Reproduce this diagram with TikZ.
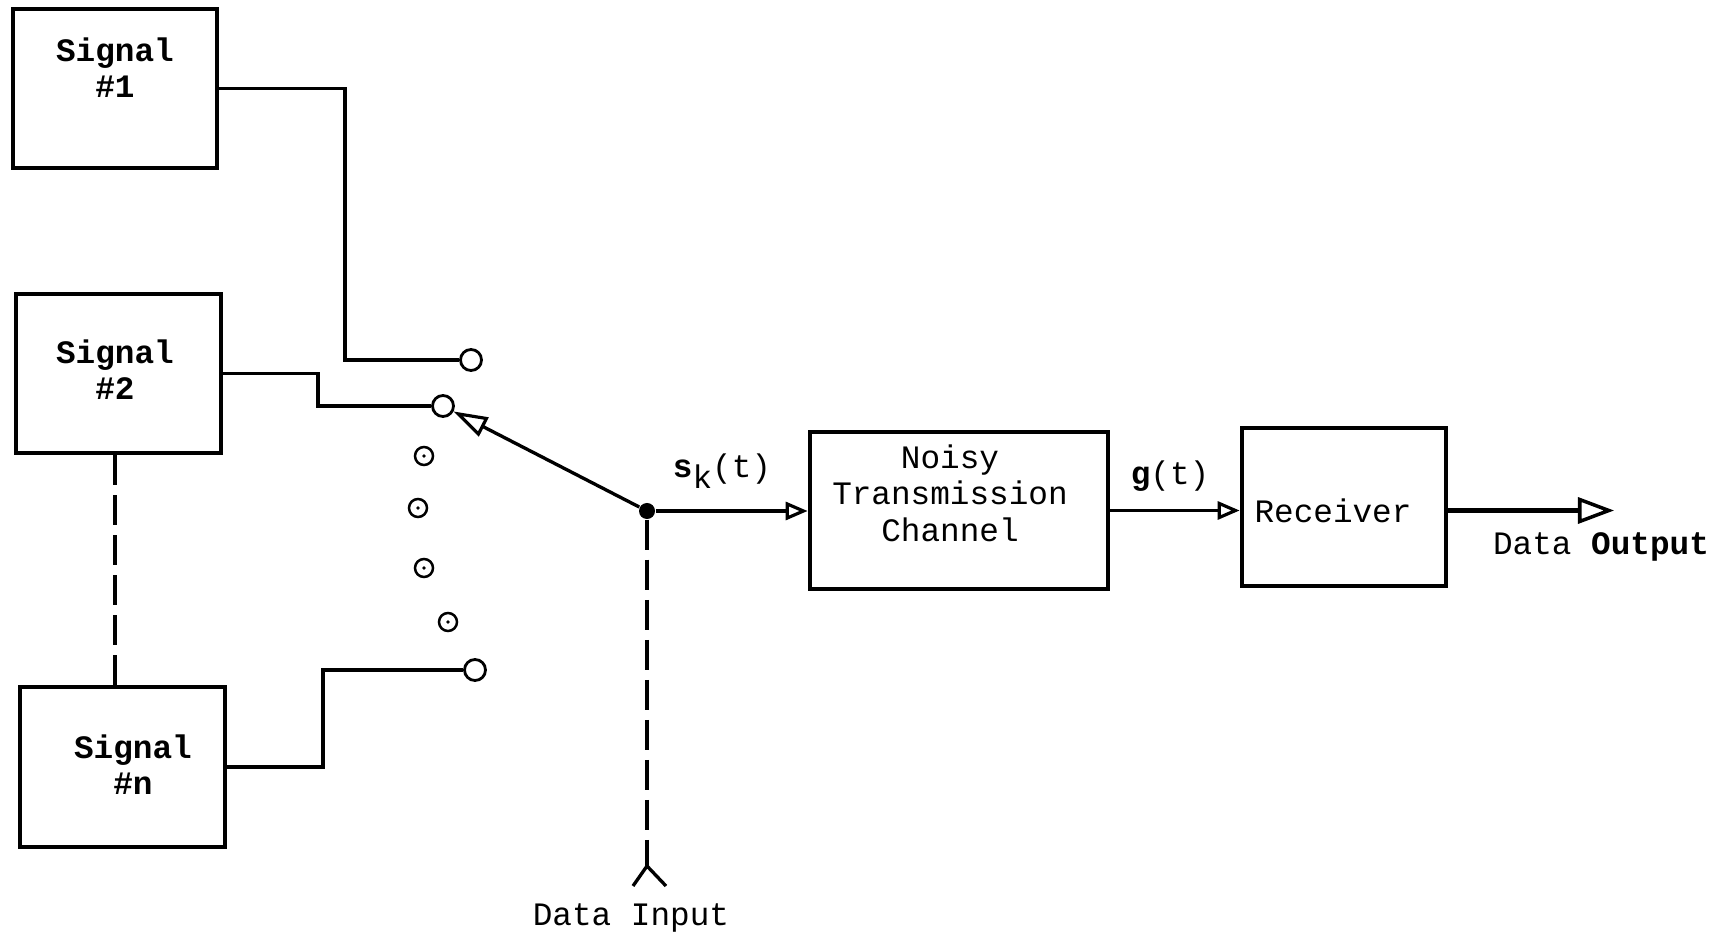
\documentclass[tikz,border=0pt]{standalone}
\usepackage{fontspec}
\setmonofont{Liberation Mono}
\usetikzlibrary{arrows.meta,calc}
\begin{document}
\begin{tikzpicture}[x=0.01cm,y=-0.01cm,
  blk/.style={draw, rectangle, line width=1.3pt, inner sep=0pt},
  sigtxt/.style={font=\fontsize{9.3}{10.2}\selectfont\ttfamily\bfseries, align=center, inner sep=0pt},
  txt/.style={font=\fontsize{9.3}{10.4}\selectfont\ttfamily, align=center, inner sep=0pt},
  wire/.style={line width=0.95pt},
  dashline/.style={line width=0.9pt, dash pattern=on 0.3cm off 0.1cm},
  term/.style={circle, draw, line width=0.8pt, inner sep=0pt, minimum size=0.21cm},
  dterm/.style={circle, draw, line width=0.7pt, inner sep=0pt, minimum size=0.18cm,
    path picture={\fill (path picture bounding box.center) circle (0.5pt);}},
  smalltip/.style={-{Triangle[open,length=0.22cm,width=0.18cm,line width=0.9pt]}},
  armtip/.style={-{Triangle[open,length=0.34cm,width=0.21cm,line width=0.9pt]}},
  bigtip/.style={-{Triangle[open,length=0.36cm,width=0.26cm,line width=1pt]}}]
\useasboundingbox[fill=white] (0,0) rectangle (1733,940);

% signal boxes
\node[blk, minimum width=2.04cm, minimum height=1.59cm] (s1) at (115,88.5) {};
\node[blk, minimum width=2.05cm, minimum height=1.59cm] (s2) at (118.5,373.5) {};
\node[blk, minimum width=2.05cm, minimum height=1.60cm] (sn) at (122.5,767) {};
\node[sigtxt] (s1t) at (115,68) {Signal\\\#1};
\node[sigtxt] (s2t) at (115,370) {Signal\\\#2};
\node[sigtxt] (snt) at (133,765) {Signal\\\#n};

% switch terminals
\node[term] (c1) at (471,360) {};
\node[term] (c2) at (443,406) {};
\node[term] (cn) at (475,670) {};
\node[dterm] (d1) at (424,456) {};
\node[dterm] (d2) at (418,508) {};
\node[dterm] (d3) at (424,568) {};
\node[dterm] (d4) at (448,622) {};

\coordinate (j1) at (345,0);
\coordinate (j2) at (318,0);
\coordinate (jn) at (323,0);
\draw[wire] (s1.east) -| (c1 -| j1) -- (c1);
\draw[wire] (s2.east) -| (c2 -| j2) -- (c2);
\draw[wire] (sn.east) -| (cn -| jn) -- (cn);
\draw[dashline] (s2.south -| s2t) -- (sn.north -| s2t);

% pivot and arm
\node[circle, fill, inner sep=0pt, minimum size=0.16cm] (p) at (647,511) {};
\draw[wire, armtip] (p) -- (c2);

% channel and receiver
\node[blk, minimum width=2.98cm, minimum height=1.57cm] (ch) at (959,510.5) {};
\node[txt] (cht) at (950,493) {Noisy\\Transmission\\Channel};
\node[blk, minimum width=2.04cm, minimum height=1.58cm] (rx) at (1344,507) {};
\node[txt] (rxt) at (1333,511) {Receiver};

\draw[wire, smalltip] (p) -- (p -| ch.west);
\draw[wire, smalltip] (ch.east) -- (ch.east -| rx.west);
\coordinate (out) at (1614,510.5);
\draw[line width=1.2pt, bigtip] (rx.east |- out) -- (out);

% labels
\node[txt] (skl) at (722,471) {{\bfseries s}\raisebox{-0.6ex}{k}(t)};
\node[txt] (gl) at (1170,476) {{\bfseries g}(t)};
\node[txt] (dout) at (1601,547) {Data {\bfseries Output}};

% data input
\coordinate (dia) at (647,866);
\coordinate (dil) at (633,886);
\coordinate (dir) at (666,886);
\draw[dashline] (p) -- (dia);
\draw[wire] (dil) -- (dia) -- (dir);
\node[txt] (din) at (631,918) {Data Input};
\end{tikzpicture}
\end{document}
